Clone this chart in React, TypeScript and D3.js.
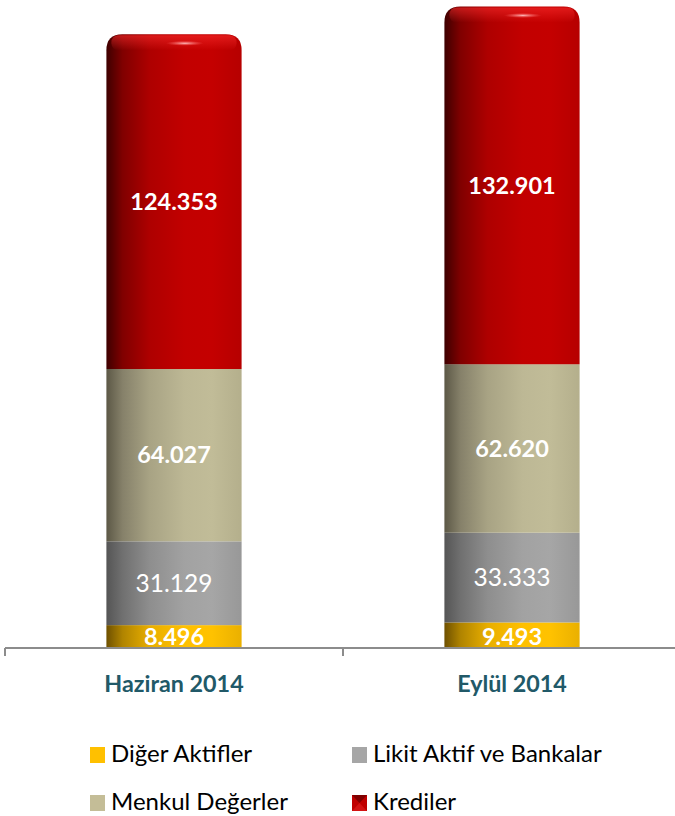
import React from "react";
import * as d3 from "d3";

const categories = ["Haziran 2014", "Eylül 2014"];
const seriesNames = ["Diğer Aktifler", "Likit Aktif ve Bankalar", "Menkul Değerler", "Krediler"];
const digerAktifler = [8496, 9493];
const likitAktif = [31129, 33333];
const menkulDegerler = [64027, 62620];
const krediler = [124353, 132901];
const valueLabels = [
  ["8.496", "9.493"],
  ["31.129", "33.333"],
  ["64.027", "62.620"],
  ["124.353", "132.901"],
];

const W = 675;
const H = 816;
const FONT = "Lato, 'Open Sans', sans-serif";

const palettes = [
  { id: "g0", stops: ["#6e5000", "#b08400", "#e8ae00", "#ffc000", "#ffc200", "#eab000"], legend: "#ffc000", bold: true },
  { id: "g1", stops: ["#555555", "#707070", "#8e8e8e", "#a2a2a2", "#a6a6a6", "#989898"], legend: "#a6a6a6", bold: false },
  { id: "g2", stops: ["#5c5846", "#86816a", "#a8a384", "#bdb895", "#c1bc98", "#b4af8c"], legend: "#c4bd97", bold: true },
  { id: "g3", stops: ["#3e0000", "#800000", "#ae0000", "#c20000", "#c40000", "#b60000"], legend: "#c00000", bold: true },
];
const stopOffsets = ["0%", "12%", "32%", "58%", "78%", "100%"];

export default function App() {
  const series = [digerAktifler, likitAktif, menkulDegerler, krediler];
  const x = d3.scaleBand<string>().domain(categories).range([5, 681]).paddingInner(0).paddingOuter(0);
  const y = d3.scaleLinear().domain([0, 240000]).range([648, 2]);
  const bw = x.bandwidth() * 0.4;

  const stackData = categories.map((c, i) => {
    const obj: any = { cat: c };
    series.forEach((s, k) => (obj["s" + k] = s[i]));
    return obj;
  });
  const stack = d3.stack<any>().keys(series.map((_, k) => "s" + k));
  const stacked = stack(stackData);

  const capR = 16;

  return (
    <svg width={W} height={H} style={{ position: "absolute", left: 0, top: 0 }}>
      <defs>
        {palettes.map((p) => (
          <linearGradient key={p.id} id={p.id} x1="0" x2="1" y1="0" y2="0">
            {p.stops.map((c, i) => (
              <stop key={i} offset={stopOffsets[i]} stopColor={c} />
            ))}
          </linearGradient>
        ))}
        <radialGradient id="hl" cx="0.5" cy="0.5" r="0.5">
          <stop offset="0%" stopColor="#ffc0c0" stopOpacity={0.95} />
          <stop offset="100%" stopColor="#ff6060" stopOpacity={0} />
        </radialGradient>
        <linearGradient id="rim" x1="0" x2="0" y1="0" y2="1">
          <stop offset="0%" stopColor="#ff3030" stopOpacity={0.55} />
          <stop offset="100%" stopColor="#ff3030" stopOpacity={0} />
        </linearGradient>
      </defs>

      {stacked.map((layer, k) =>
        layer.map((d, i) => {
          const cat = categories[i];
          const x0 = x(cat)! + (x.bandwidth() - bw) / 2;
          const yTop = y(d[1]);
          const yBot = y(d[0]);
          const isTop = k === stacked.length - 1;
          if (isTop) {
            const p = d3.path();
            p.moveTo(x0, yBot);
            p.lineTo(x0, yTop + capR);
            p.quadraticCurveTo(x0, yTop, x0 + capR, yTop);
            p.lineTo(x0 + bw - capR, yTop);
            p.quadraticCurveTo(x0 + bw, yTop, x0 + bw, yTop + capR);
            p.lineTo(x0 + bw, yBot);
            p.closePath();
            return (
              <g key={`${k}-${i}`}>
                <path d={p.toString()} fill={`url(#${palettes[k].id})`} />
                <rect x={x0 + 5} y={yTop + 1} width={bw - 10} height={15} rx={7} fill="url(#rim)" />
                <ellipse cx={x0 + bw * 0.58} cy={yTop + 9} rx={bw * 0.14} ry={2.5} fill="url(#hl)" />
              </g>
            );
          }
          return (
            <rect key={`${k}-${i}`} x={x0} y={yTop} width={bw} height={yBot - yTop}
              fill={`url(#${palettes[k].id})`} />
          );
        })
      )}

      {stacked.map((layer, k) =>
        layer.map((d, i) => {
          const cat = categories[i];
          const cx = x(cat)! + x.bandwidth() / 2;
          const cy = (y(d[0]) + y(d[1])) / 2;
          const isBottom = k === 0;
          return (
            <text key={`t${k}-${i}`} x={cx} y={isBottom ? y(d[0]) - 3 : cy} dy={isBottom ? 0 : "0.35em"}
              textAnchor="middle" fill="#ffffff" fontFamily={FONT}
              fontWeight={palettes[k].bold ? 700 : 400} fontSize={palettes[k].bold ? 23.5 : 24.5}>
              {valueLabels[k][i]}
            </text>
          );
        })
      )}

      {/* axis */}
      <line x1={5} x2={W} y1={648} y2={648} stroke="#8c8c8c" strokeWidth={2} />
      {[...categories.map((c) => x(c)!), x.range()[1]].map((t, i) => (
        <line key={i} x1={t} x2={t} y1={648} y2={656} stroke="#8c8c8c" strokeWidth={2} />
      ))}
      {categories.map((c) => (
        <text key={c} x={x(c)! + x.bandwidth() / 2} y={692} textAnchor="middle"
          fill="#215968" fontFamily={FONT} fontWeight={700} fontSize={23.3}>
          {c}
        </text>
      ))}

      {/* legend */}
      {[
        { k: 0, lx: 90, ly: 755 },
        { k: 1, lx: 352, ly: 755 },
        { k: 2, lx: 90, ly: 803 },
        { k: 3, lx: 352, ly: 803 },
      ].map(({ k, lx, ly }) => (
        <g key={k}>
          <rect x={lx} y={ly - 8} width={15} height={16} fill={palettes[k].legend} />
          {k === 3 && (
            <>
              <path d={`M${lx},${ly - 8}L${lx + 7.5},${ly}L${lx + 15},${ly - 8}Z`} fill="#6e0000" opacity={0.8} />
              <path d={`M${lx},${ly + 8}L${lx + 7.5},${ly}L${lx + 15},${ly + 8}Z`} fill="#e02020" opacity={0.6} />
            </>
          )}
          <text x={lx + 21} y={ly + 7} fill="#000" fontFamily={FONT} fontSize={24}>
            {seriesNames[k]}
          </text>
        </g>
      ))}
    </svg>
  );
}
